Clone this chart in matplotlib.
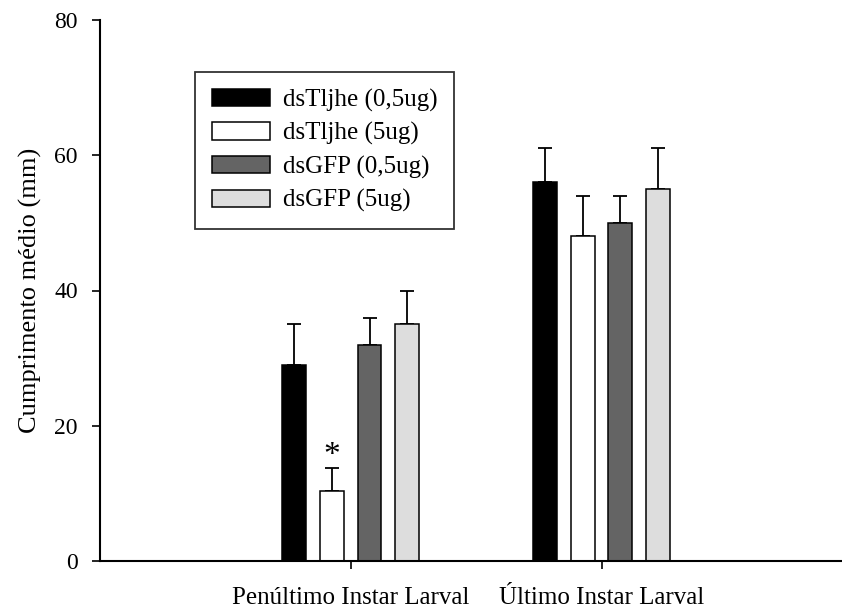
import numpy as np
import matplotlib
matplotlib.use('Agg')
import matplotlib.pyplot as plt

plt.rcParams['font.family'] = ['Liberation Serif', 'DejaVu Serif']

groups = ['Penúltimo Instar Larval', 'Último Instar Larval']
series = ['dsTljhe (0,5ug)', 'dsTljhe (5ug)', 'dsGFP (0,5ug)', 'dsGFP (5ug)']
means = [
  [29, 56],
  [10.35, 48],
  [32, 50],
  [35, 55],
]
errs = [
  [6, 5],
  [3.4, 6],
  [4, 4],
  [5, 6],
]
colors = ['#000000', '#ffffff', '#646464', '#dddddd']
yticks = [0, 20, 40, 60, 80]

fig = plt.figure(figsize=(8.42, 6.11), dpi=100)
ax = fig.add_axes([100/842, 1 - 561/611, 742/842, 541/611])

x = np.arange(1, len(groups) + 1)
width = 0.095
offsets = [-0.2255, -0.0745, 0.0745, 0.2255]

for i, name in enumerate(series):
  ax.bar(x + offsets[i], means[i], width, color=colors[i], edgecolor='black',
         linewidth=1.1, label=name, zorder=2)
  ax.errorbar(x + offsets[i], means[i], yerr=[np.zeros(len(groups)), errs[i]],
              fmt='none', ecolor='black', elinewidth=1.3, capsize=5.3,
              capthick=1.3, zorder=1)

# significance mark over the 5ug dsTljhe bar in the first stage
ax.text(x[0] + offsets[1], means[1][0] + errs[1][0] - 0.5, '*', ha='center',
        va='bottom', fontsize=24)

ax.set_xlim(0, 2.958)
ax.set_ylim(0, 80)
ax.set_xticks(x)
ax.set_xticklabels(groups, fontsize=18)
ax.set_yticks(yticks)
ax.set_yticklabels([str(t) for t in yticks], fontsize=17)
ax.set_ylabel('Cumprimento médio (mm)', fontsize=19, labelpad=9)

for side in ['top', 'right']:
  ax.spines[side].set_visible(False)
for side in ['left', 'bottom']:
  ax.spines[side].set_linewidth(1.5)
ax.tick_params(axis='both', direction='out', length=6, width=1.2)
ax.tick_params(axis='x', pad=13)
ax.tick_params(axis='y', pad=10)

leg = ax.legend(loc='upper left', bbox_to_anchor=(195/842, 1 - 72/611),
                bbox_transform=fig.transFigure, fontsize=18, frameon=True,
                fancybox=False, edgecolor='black', handlelength=2.35,
                handleheight=0.68, handletextpad=0.5, labelspacing=0.42,
                borderpad=0.66, borderaxespad=0)
leg.get_frame().set_linewidth(1.3)

fig.savefig('out.png', dpi=100)
